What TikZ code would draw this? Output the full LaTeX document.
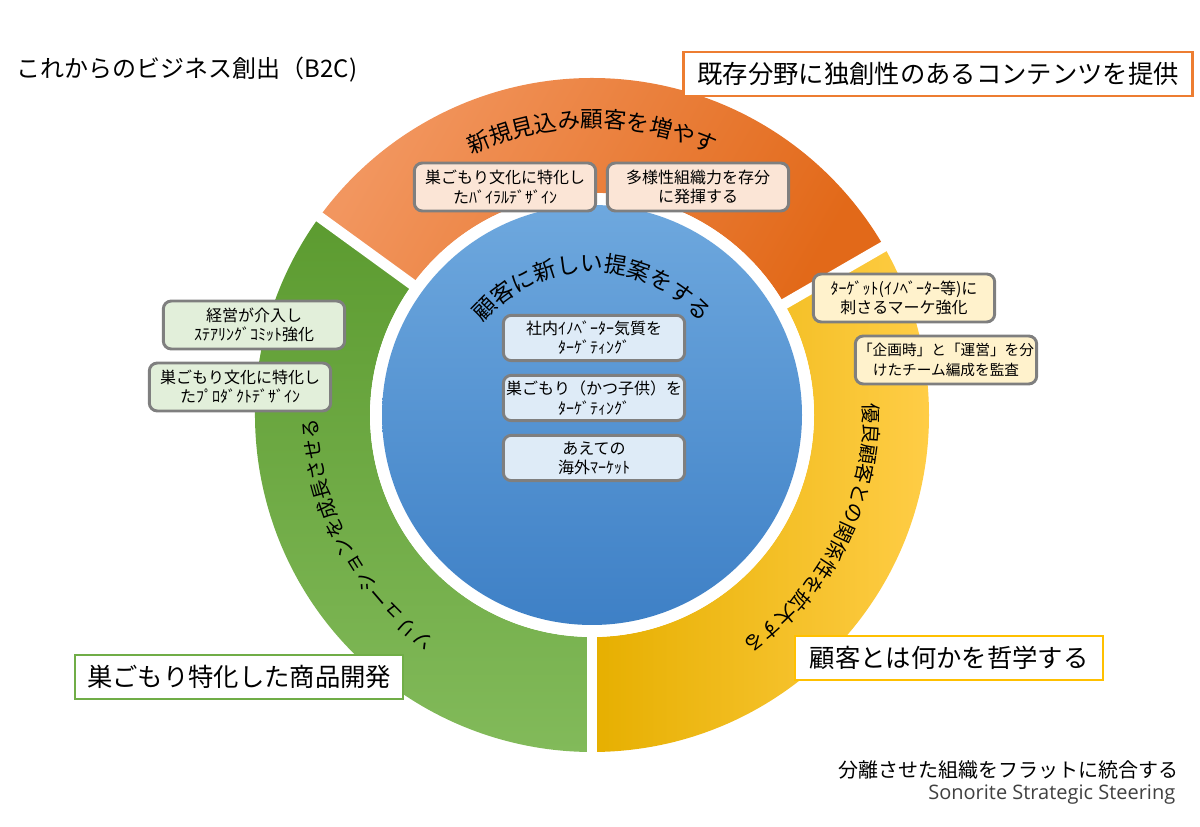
\documentclass[tikz,border=0pt]{standalone}
\usepackage{fontspec}
\setmainfont{Noto Sans CJK JP}
\newfontfamily\latinf{Open Sans}
\usetikzlibrary{decorations.text,calc}
\definecolor{obord}{HTML}{ED7D31}
\definecolor{ybord}{HTML}{FFC000}
\definecolor{gbord}{HTML}{70AD47}
\definecolor{bxgray}{HTML}{7F7F7F}
\definecolor{ofill}{HTML}{FBE5D6}
\definecolor{yfill}{HTML}{FFF2CC}
\definecolor{gfill}{HTML}{E2EFDA}
\definecolor{bfill}{HTML}{DEEBF7}
\tikzset{
 bigbox/.style={draw=#1,line width=2.2pt,fill=white,inner sep=0pt,minimum height=33pt,font=\fontsize{19}{22}\selectfont},
 smallbox/.style={draw=bxgray,line width=2.2pt,rounded corners=6pt,fill=#1,minimum width=136pt,minimum height=36pt,inner sep=1pt,align=center,font=\fontsize{12}{14.5}\selectfont},
}
\begin{document}
\begin{tikzpicture}[x=0.75pt,y=0.75pt]
\useasboundingbox (0,0) rectangle (1200,827);
\coordinate (C) at (592,412);
% ring sectors
\shade[left color={rgb,255:red,242;green,150;blue,95}, right color={rgb,255:red,226;green,105;blue,25},shading angle=60]
  ($(C)+(30:337)$) arc[start angle=30,end angle=144,radius=337] -- ($(C)+(144:222)$) arc[start angle=144,end angle=30,radius=222] -- cycle;
\shade[top color={rgb,255:red,92;green,155;blue,48}, bottom color={rgb,255:red,130;green,186;blue,90}]
  ($(C)+(144:337)$) arc[start angle=144,end angle=270,radius=337] -- ($(C)+(270:222)$) arc[start angle=270,end angle=144,radius=222] -- cycle;
\shade[left color={rgb,255:red,230;green,175;blue,0}, right color={rgb,255:red,255;green,205;blue,70}]
  ($(C)+(-90:337)$) arc[start angle=-90,end angle=30,radius=337] -- ($(C)+(30:222)$) arc[start angle=30,end angle=-90,radius=222] -- cycle;
\foreach \a in {30,144,270} \draw[white,line width=8pt] (C) -- ($(C)+(\a:350)$);
\fill[white] (C) circle[radius=222];
\shade[top color={rgb,255:red,110;green,168;blue,222}, bottom color={rgb,255:red,62;green,128;blue,198}] (C) circle[radius=210];
% curved texts
\path[decorate,decoration={text along path,text align=center,text format delimiters={|}{|},text={|\fontsize{17}{17}\selectfont|新規見込み顧客を増やす}}]
  ($(C)+(160:287)$) arc[start angle=160,end angle=20,radius=287];
\path[decorate,decoration={text along path,text align=center,text format delimiters={|}{|},text={|\fontsize{17}{17}\selectfont|顧客に新しい提案をする}}]
  ($(C)+(150:143)$) arc[start angle=150,end angle=30,radius=143];
\path[decorate,decoration={text along path,text align=center,text format delimiters={|}{|},text={|\fontsize{15}{15}\selectfont|優良顧客との関係性を拡大する}}]
  ($(C)+(40:272)$) arc[start angle=40,end angle=-94,radius=272];
\path[decorate,decoration={text along path,text align=center,text format delimiters={|}{|},text={|\fontsize{15}{15}\selectfont|ソリューションを成長させる}}]
  ($(C)+(275:274)$) arc[start angle=275,end angle=141,radius=274];
% small boxes
\node[smallbox=ofill] (o1) at (505,640) {巣ごもり文化に特化し\\たﾊﾞｲﾗﾙﾃﾞｻﾞｲﾝ};
\node[smallbox=ofill] (o2) at (698,640) {多様性組織力を存分\\に発揮する};
\node[smallbox=yfill] (y1) at (904,529) {ﾀｰｹﾞｯﾄ(ｲﾉﾍﾞｰﾀｰ等)に\\刺さるマーケ強化};
\node[smallbox=yfill,font=\fontsize{11}{14.5}\selectfont] (y2) at (946,467) {「企画時」と「運営」を分\\けたチーム編成を監査};
\node[smallbox=gfill] (g1) at (254,502) {経営が介入し\\ｽﾃｱﾘﾝｸﾞｺﾐｯﾄ強化};
\node[smallbox=gfill] (g2) at (240,440) {巣ごもり文化に特化し\\たﾌﾟﾛﾀﾞｸﾄﾃﾞｻﾞｲﾝ};
\node[smallbox=bfill,minimum height=34pt] (b1) at (594,489) {社内ｲﾉﾍﾞｰﾀｰ気質を\\ﾀｰｹﾞﾃｨﾝｸﾞ};
\node[smallbox=bfill,minimum height=34pt] (b2) at (594,429) {巣ごもり（かつ子供）を\\ﾀｰｹﾞﾃｨﾝｸﾞ};
\node[smallbox=bfill,minimum height=34pt] (b3) at (594,369) {あえての\\海外ﾏｰｹｯﾄ};
% big boxes
\node[bigbox=obord,minimum width=382pt] (ob) at (938,753) {既存分野に独創性のあるコンテンツを提供};
\node[bigbox=ybord,minimum width=231pt] (yb) at (949,169) {顧客とは何かを哲学する};
\node[bigbox=gbord,minimum width=246pt] (gb) at (239,150) {巣ごもり特化した商品開発};
% titles
\node[anchor=west,font=\fontsize{18}{20}\selectfont] (title) at (12,757) {これからのビジネス創出（B2C)};
\node[anchor=east,font=\fontsize{15}{18}\selectfont] (s1) at (1183,57) {分離させた組織をフラットに統合する};
\node[anchor=east,font=\latinf\fontsize{15}{18}\selectfont,text=black!75] (s2) at (1180,32) {Sonorite Strategic Steering};
\end{tikzpicture}
\end{document}
